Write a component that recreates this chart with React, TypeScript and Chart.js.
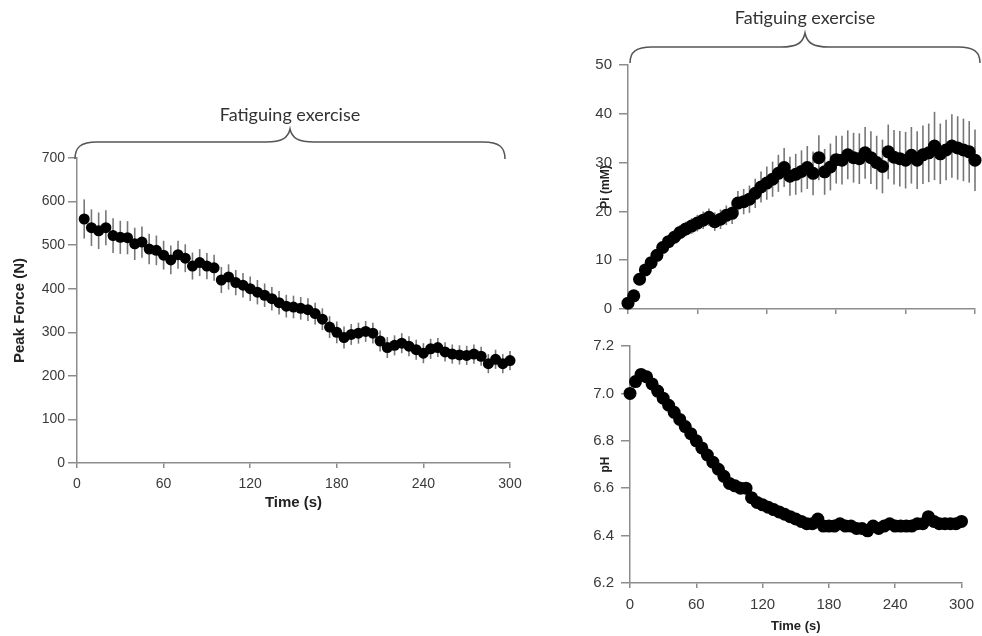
import React, { useEffect, useRef } from 'react';
import { Chart, registerables } from 'chart.js';

Chart.register(...registerables);

// ---------- data ----------
const forceTime = [5, 10, 15, 20, 25, 30, 35, 40, 45, 50, 55, 60, 65, 70, 75, 80, 85, 90, 95, 100,
  105, 110, 115, 120, 125, 130, 135, 140, 145, 150, 155, 160, 165, 170, 175, 180, 185, 190, 195, 200,
  205, 210, 215, 220, 225, 230, 235, 240, 245, 250, 255, 260, 265, 270, 275, 280, 285, 290, 295, 300];
const forceValues = [560, 540, 533, 540, 522, 518, 517, 503, 507, 491, 488, 477, 466, 478, 470, 452, 460, 452, 448, 420,
  427, 414, 408, 400, 392, 385, 377, 368, 360, 358, 355, 352, 343, 330, 312, 300, 288, 295, 298, 302,
  298, 280, 265, 270, 275, 268, 260, 252, 262, 265, 255, 250, 248, 247, 250, 245, 228, 238, 228, 235];
const forceErrors = [45, 42, 42, 40, 40, 38, 38, 37, 36, 35, 34, 33, 33, 32, 32, 31, 31, 30, 30, 30,
  29, 29, 28, 28, 28, 27, 27, 27, 26, 26, 26, 26, 25, 25, 25, 25, 25, 24, 24, 24,
  24, 24, 24, 23, 23, 23, 23, 23, 23, 22, 22, 22, 22, 22, 22, 22, 22, 22, 22, 22];
const forceTicks = [0, 100, 200, 300, 400, 500, 600, 700];

const mrsTime = [0, 5, 10, 15, 20, 25, 30, 35, 40, 45, 50, 55, 60, 65, 70, 75, 80, 85, 90, 95, 100,
  105, 110, 115, 120, 125, 130, 135, 140, 145, 150, 155, 160, 165, 170, 175, 180, 185, 190, 195, 200,
  205, 210, 215, 220, 225, 230, 235, 240, 245, 250, 255, 260, 265, 270, 275, 280, 285, 290, 295, 300];
const piValues = [1.2, 2.7, 6.1, 8.0, 9.5, 11.0, 12.6, 13.8, 14.7, 15.7, 16.4, 17.0, 17.6, 18.2, 18.8, 17.9, 18.4, 19.2, 19.6, 21.7, 22.0,
  22.5, 23.7, 25.0, 25.8, 26.6, 27.8, 29.0, 27.2, 27.6, 28.2, 29.0, 27.8, 31.0, 28.1, 29.1, 30.6, 30.5, 31.6, 31.0, 30.8,
  32.0, 31.0, 30.0, 29.2, 32.2, 31.1, 30.8, 30.5, 31.5, 30.5, 31.6, 32.0, 33.4, 31.8, 32.6, 33.4, 33.0, 32.6, 32.2, 30.5];
const piErrors = [0.3, 0.5, 0.8, 1.0, 1.0, 1.2, 1.2, 1.3, 1.4, 1.5, 1.5, 1.6, 1.7, 1.8, 1.8, 1.9, 2.0, 2.0, 2.2, 2.5, 2.6,
  2.8, 3.0, 3.2, 3.4, 3.6, 3.8, 4.0, 4.0, 4.2, 4.3, 4.4, 4.5, 4.6, 4.7, 4.8, 4.9, 5.0, 5.0, 5.1, 5.2,
  5.3, 5.4, 5.5, 5.5, 5.6, 5.6, 5.7, 5.8, 5.8, 5.9, 6.0, 6.0, 7.0, 6.2, 6.2, 6.5, 6.5, 6.4, 6.3, 6.3];
const piTicks = [0, 10, 20, 30, 40, 50];

const phValues = [7.00, 7.05, 7.08, 7.07, 7.04, 7.01, 6.98, 6.95, 6.92, 6.89, 6.86, 6.83, 6.80, 6.77, 6.74, 6.71, 6.68, 6.65, 6.62, 6.61, 6.60,
  6.60, 6.56, 6.54, 6.53, 6.52, 6.51, 6.50, 6.49, 6.48, 6.47, 6.46, 6.45, 6.45, 6.47, 6.44, 6.44, 6.44, 6.45, 6.44, 6.44,
  6.43, 6.43, 6.42, 6.44, 6.43, 6.44, 6.45, 6.44, 6.44, 6.44, 6.44, 6.45, 6.45, 6.48, 6.46, 6.45, 6.45, 6.45, 6.45, 6.46];
const phErrors = [0.01, 0.01, 0.01, 0.01, 0.01, 0.01, 0.01, 0.01, 0.01, 0.01, 0.01, 0.01, 0.01, 0.012, 0.012, 0.012, 0.014, 0.014, 0.015, 0.015, 0.016,
  0.016, 0.017, 0.018, 0.018, 0.018, 0.018, 0.02, 0.02, 0.02, 0.02, 0.02, 0.02, 0.02, 0.02, 0.02, 0.02, 0.02, 0.02, 0.02, 0.02,
  0.02, 0.02, 0.02, 0.02, 0.02, 0.02, 0.02, 0.02, 0.02, 0.02, 0.02, 0.02, 0.02, 0.02, 0.02, 0.02, 0.02, 0.02, 0.02, 0.02];
const phTicks = [6.2, 6.4, 6.6, 6.8, 7.0, 7.2];

const timeTicks = [0, 60, 120, 180, 240, 300];
const braceLabel = 'Fatiguing exercise';

// ---------- styles ----------
const FONT = 'Arial, "Liberation Sans", sans-serif';
const AXIS = '#8c8c8c';
const TXT = '#3a3a3a';

const errorBarsPlugin = {
  id: 'errorBars',
  beforeDatasetsDraw(chart: any, _args: any, opts: any) {
    const errs: number[] = opts.errors;
    if (!errs) return;
    const data = chart.data.datasets[0].data;
    const xs = chart.scales.x;
    const ys = chart.scales.y;
    const ctx = chart.ctx;
    ctx.save();
    ctx.strokeStyle = opts.color || '#777';
    ctx.lineWidth = opts.width || 1.5;
    data.forEach((p: any, i: number) => {
      const px = xs.getPixelForValue(p.x);
      ctx.beginPath();
      ctx.moveTo(px, ys.getPixelForValue(p.y - errs[i]));
      ctx.lineTo(px, ys.getPixelForValue(p.y + errs[i]));
      ctx.stroke();
    });
    ctx.restore();
  },
};

const bracePlugin = {
  id: 'brace',
  afterDraw(chart: any, _args: any, opts: any) {
    if (!opts.text) return;
    const { left, right, top } = chart.chartArea;
    const ctx = chart.ctx;
    const L = left + opts.dl;
    const R = right + opts.dr;
    const mid = (L + R) / 2;
    const endY = top + opts.endOff;
    const lineY = top - opts.lineOff;
    const tipY = top - opts.tipOff;
    ctx.save();
    ctx.strokeStyle = '#555';
    ctx.lineWidth = 1.5;
    ctx.beginPath();
    ctx.moveTo(L, endY);
    ctx.bezierCurveTo(L, lineY + 5, L + 6, lineY, L + 22, lineY);
    ctx.lineTo(mid - 24, lineY);
    ctx.bezierCurveTo(mid - 8, lineY, mid - 2, lineY - 4, mid, tipY);
    ctx.bezierCurveTo(mid + 2, lineY - 4, mid + 8, lineY, mid + 24, lineY);
    ctx.lineTo(R - 22, lineY);
    ctx.bezierCurveTo(R - 6, lineY, R, lineY + 5, R, endY);
    ctx.stroke();
    ctx.fillStyle = '#333';
    ctx.font = '18px Lato, "Open Sans", sans-serif';
    ctx.textAlign = 'center';
    ctx.textBaseline = 'middle';
    ctx.fillText(opts.text, mid, top - opts.textOff);
    ctx.restore();
  },
};

type PanelCfg = {
  xs: number[];
  ys: number[];
  errs: number[];
  yTicks: number[];
  yMin: number;
  yMax: number;
  yTitle: string;
  yWidth: number;
  xHeight: number;
  padTop: number;
  padRight: number;
  showXLabels: boolean;
  xTitle: string;
  radius: number;
  tickFont: number;
  titleFont: number;
  yTitlePad: number;
  yTickPad: number;
  xTickPad: number;
  xTitlePadBottom: number;
  decimals: number;
  brace: any;
};

function buildChart(canvas: HTMLCanvasElement, c: PanelCfg) {
  const points = c.xs.map((x, i) => ({ x, y: c.ys[i] }));
  return new Chart(canvas, {
    type: 'line',
    data: {
      datasets: [
        {
          data: points,
          showLine: false,
          pointRadius: c.radius,
          pointHoverRadius: c.radius,
          pointBackgroundColor: '#000',
          pointBorderColor: '#000',
          pointBorderWidth: 0,
          clip: false as any,
        },
      ],
    },
    options: {
      animation: false,
      responsive: false,
      events: [],
      layout: { padding: { top: c.padTop, right: c.padRight, left: 0, bottom: 0 } },
      plugins: {
        legend: { display: false },
        tooltip: { enabled: false },
        errorBars: { errors: c.errs, color: '#777', width: 1.6 },
        brace: c.brace,
      } as any,
      scales: {
        x: {
          type: 'linear',
          min: 0,
          max: 300,
          afterBuildTicks: (s: any) => {
            s.ticks = timeTicks.map((v) => ({ value: v }));
          },
          afterFit: (s: any) => {
            s.height = c.xHeight;
          },
          grid: { display: true, drawOnChartArea: false, drawTicks: true, tickLength: 5, color: AXIS, lineWidth: 1.5 },
          border: { display: true, color: AXIS, width: 1.5 },
          ticks: {
            display: c.showXLabels,
            color: TXT,
            font: { family: FONT, size: c.tickFont },
            padding: c.xTickPad,
            maxRotation: 0,
            autoSkip: false,
          },
          title: {
            display: c.xTitle !== '',
            text: c.xTitle,
            color: '#222',
            font: { family: FONT, size: c.titleFont, weight: 'bold' },
            padding: { top: 0, bottom: c.xTitlePadBottom },
          },
        },
        y: {
          type: 'linear',
          min: c.yMin,
          max: c.yMax,
          afterBuildTicks: (s: any) => {
            s.ticks = c.yTicks.map((v) => ({ value: v }));
          },
          afterFit: (s: any) => {
            s.width = c.yWidth;
          },
          grid: { display: true, drawOnChartArea: false, drawTicks: true, tickLength: 9, color: AXIS, lineWidth: 1.5 },
          border: { display: true, color: AXIS, width: 1.5 },
          ticks: {
            color: TXT,
            font: { family: FONT, size: c.tickFont },
            padding: c.yTickPad,
            autoSkip: false,
            callback: (v: any) => Number(v).toFixed(c.decimals),
          },
          title: {
            display: true,
            text: c.yTitle,
            color: '#222',
            font: { family: FONT, size: c.yTitleFont, weight: 'bold' },
            padding: { top: c.yTitlePad, bottom: 0 },
          },
        },
      },
    } as any,
    plugins: [errorBarsPlugin, bracePlugin],
  });
}

function Panel(props: { cfg: PanelCfg; left: number; top: number; width: number; height: number }) {
  const ref = useRef<HTMLCanvasElement | null>(null);
  useEffect(() => {
    if (!ref.current) return;
    const ch = buildChart(ref.current, props.cfg);
    return () => ch.destroy();
  }, []);
  return (
    <canvas
      ref={ref}
      width={props.width}
      height={props.height}
      style={{ position: 'absolute', left: props.left, top: props.top, width: props.width, height: props.height }}
    />
  );
}

const forceCfg: any = {
  xs: forceTime,
  ys: forceValues,
  errs: forceErrors,
  yTicks: forceTicks,
  yMin: 0,
  yMax: 700,
  yTitle: 'Peak Force (N)',
  yWidth: 77,
  xHeight: 57,
  padTop: 58,
  padRight: 20,
  showXLabels: true,
  xTitle: 'Time (s)',
  radius: 5.5,
  tickFont: 14,
  titleFont: 15,
  yTitleFont: 15,
  yTitlePad: 11,
  yTickPad: 3,
  xTickPad: 8,
  xTitlePadBottom: 8,
  decimals: 0,
  brace: { text: braceLabel, dl: -2, dr: -5, endOff: 1, lineOff: 16, tipOff: 29, textOff: 43 },
};

const piCfg: any = {
  xs: mrsTime,
  ys: piValues,
  errs: piErrors,
  yTicks: piTicks,
  yMin: 0,
  yMax: 50,
  yTitle: 'Pi (mM)',
  yWidth: 68,
  xHeight: 21,
  padTop: 65,
  padRight: 7,
  showXLabels: false,
  xTitle: '',
  radius: 6.5,
  tickFont: 15,
  titleFont: 13,
  yTitleFont: 12,
  yTitlePad: 38,
  yTickPad: 7,
  xTickPad: 8,
  xTitlePadBottom: 2,
  decimals: 0,
  brace: { text: braceLabel, dl: 2, dr: 5, endOff: -2, lineOff: 18, tipOff: 32, textOff: 47 },
};

const phCfg: any = {
  xs: mrsTime,
  ys: phValues,
  errs: phErrors,
  yTicks: phTicks,
  yMin: 6.2,
  yMax: 7.2,
  yTitle: 'pH',
  yWidth: 70,
  xHeight: 53,
  padTop: 15,
  padRight: 16,
  showXLabels: true,
  xTitle: 'Time (s)',
  radius: 6.5,
  tickFont: 15,
  titleFont: 13,
  yTitleFont: 12,
  yTitlePad: 38,
  yTickPad: 7,
  xTickPad: 8,
  xTitlePadBottom: 2,
  decimals: 1,
  brace: { text: '' },
};

export default function App() {
  return (
    <div style={{ position: 'absolute', left: 0, top: 0, width: 982, height: 636, background: '#fff', overflow: 'hidden' }}>
      <Panel cfg={forceCfg} left={0} top={100} width={530} height={420} />
      <Panel cfg={piCfg} left={560} top={0} width={422} height={330} />
      <Panel cfg={phCfg} left={560} top={330} width={422} height={306} />
    </div>
  );
}
